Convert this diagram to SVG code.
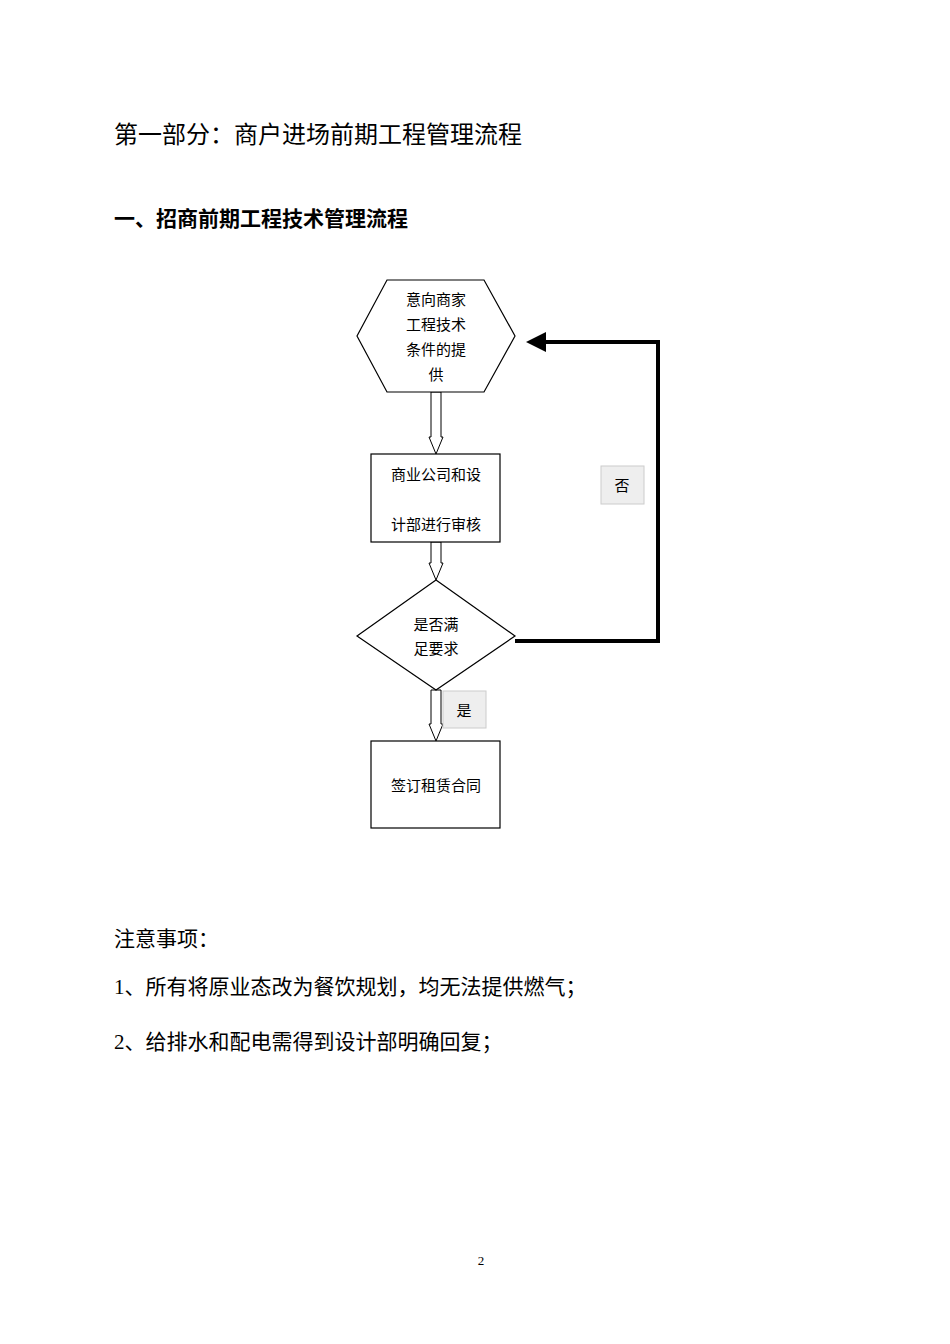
<svg xmlns="http://www.w3.org/2000/svg" width="950" height="1344" viewBox="0 0 950 1344">
<style>
.t{font-family:"Liberation Serif","Noto Sans CJK SC",serif;fill:#000}
.n{fill:#fff;stroke:#000;stroke-width:1.2}
.a{fill:#fff;stroke:#000;stroke-width:1}
.l{fill:#eee;stroke:#ccc;stroke-width:1}
</style>
<defs><marker id="ah" markerWidth="5" markerHeight="5" refX="4" refY="2.5" orient="auto" markerUnits="strokeWidth"><path d="M0,0L5,2.5L0,5z" fill="#000"/></marker></defs>
<rect width="950" height="1344" fill="#fff"/>
<text class="t" x="114" y="143" font-size="24">第一部分：商户进场前期工程管理流程</text>
<text class="t" x="114" y="226" font-size="21" font-weight="bold" style="font-family:'Noto Sans CJK SC',sans-serif">一、招商前期工程技术管理流程</text>
<g id="connectors">
<path class="a" d="M431,392V437H429L436,454L443,437H441V392Z"/>
<path class="a" d="M431,542V563H429L436,580L443,563H441V542Z"/>
<path class="a" d="M431,690V724H429L436,741L443,724H441V690Z"/>
<path d="M515,641H658V342H530" fill="none" stroke="#000" stroke-width="4" marker-end="url(#ah)"/>
</g>
<g id="n1"><polygon class="n" points="387,280 484,280 515,336 484,392 387,392 357,336"/>
<text class="t" font-size="15" text-anchor="middle" x="436"><tspan x="436" y="305">意向商家</tspan><tspan x="436" y="330">工程技术</tspan><tspan x="436" y="355">条件的提</tspan><tspan x="436" y="380">供</tspan></text></g>
<g id="n2"><rect class="n" x="371" y="454" width="129" height="88"/>
<text class="t" font-size="15" text-anchor="middle"><tspan x="436" y="480">商业公司和设</tspan><tspan x="436" y="530">计部进行审核</tspan></text></g>
<g id="n3"><polygon class="n" points="436,580 515,636 436,690 357,636"/>
<text class="t" font-size="15" text-anchor="middle"><tspan x="436" y="630">是否满</tspan><tspan x="436" y="654">足要求</tspan></text></g>
<g id="n4"><rect class="n" x="371" y="741" width="129" height="87"/>
<text class="t" font-size="15" text-anchor="middle" x="436" y="791">签订租赁合同</text></g>
<g id="lab1"><rect class="l" x="601" y="466" width="43" height="38"/><text class="t" font-size="15" text-anchor="middle" x="622" y="491">否</text></g>
<g id="lab2"><rect class="l" x="443" y="691" width="43" height="37"/><text class="t" font-size="15" text-anchor="middle" x="464" y="716">是</text></g>
<text class="t" x="114" y="946" font-size="21">注意事项：</text>
<text class="t" x="114" y="994" font-size="21">1、所有将原业态改为餐饮规划，均无法提供燃气；</text>
<text class="t" x="114" y="1049" font-size="21">2、给排水和配电需得到设计部明确回复；</text>
<text class="t" x="481" y="1265" font-size="13" text-anchor="middle">2</text>
</svg>
